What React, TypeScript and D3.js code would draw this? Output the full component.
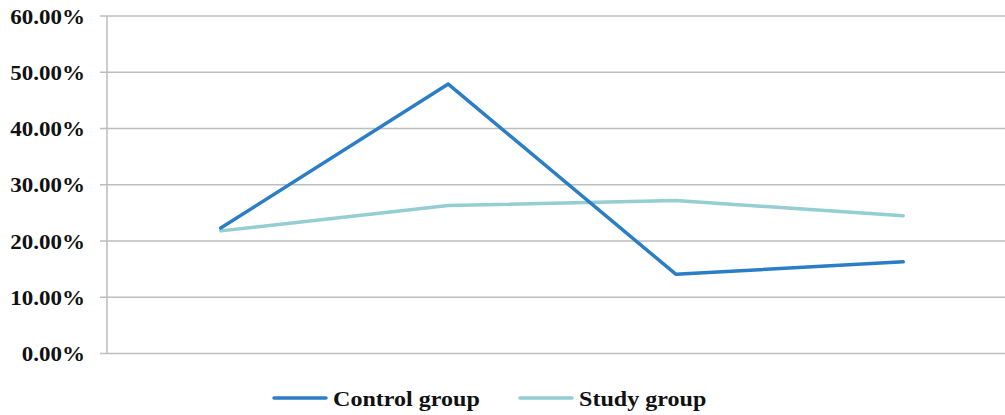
import React from "react";
import * as d3 from "d3";

const categories = ["G1", "G2", "G3", "G4"];
const controlValues = [22.3, 47.9, 14.1, 16.3];
const studyValues = [21.8, 26.3, 27.2, 24.5];
const yTicks = [0, 10, 20, 30, 40, 50, 60];
const seriesNames = ["Control group", "Study group"];
const seriesColors = ["#2b7ec5", "#94cdd2"];

export default function App() {
  const W = 1005, H = 415;
  const left = 107, right = 1017, top = 16, bottom = 353.5;
  const x = d3.scaleBand().domain(categories).range([left, right]);
  const y = d3.scaleLinear().domain([0, 60]).range([bottom, top]);
  const line = d3.line<number>()
    .x((_, i) => (x(categories[i]) as number) + x.bandwidth() / 2)
    .y((d) => y(d));
  const font = "'Liberation Serif', 'Times New Roman', serif";
  const series = [controlValues, studyValues];
  const legendX = [274, 520];
  return (
    <svg width={W} height={H} style={{ position: "absolute", left: 0, top: 0, background: "#fff" }}>
      {yTicks.map((t) => (
        <g key={t}>
          <line x1={100} x2={W} y1={y(t)} y2={y(t)} stroke="#bdbdbd" strokeWidth={1.5} />
          <text transform={`translate(85,${y(t)}) scale(1.07,1)`} dy="0.35em" textAnchor="end" fontFamily={font} fontWeight="bold" fontSize={21.5} fill="#111">
            {t.toFixed(2)}%
          </text>
        </g>
      ))}
      <line x1={left} x2={left} y1={top} y2={bottom} stroke="#bdbdbd" strokeWidth={1.5} />
      {series.map((s, i) => (
        <path key={i} d={line(s) as string} fill="none" stroke={seriesColors[i]} strokeWidth={3.5} strokeLinejoin="round" strokeLinecap="round" />
      )).reverse()}
      {seriesNames.map((n, i) => (
        <g key={n}>
          <line x1={legendX[i]} x2={legendX[i] + 52} y1={398} y2={398} stroke={seriesColors[i]} strokeWidth={3.5} strokeLinecap="round" />
          <text transform={`translate(${legendX[i] + 59},398) scale(1.12,1)`} dy="0.35em" fontFamily={font} fontWeight="bold" fontSize={21.5} fill="#111">{n}</text>
        </g>
      ))}
    </svg>
  );
}
